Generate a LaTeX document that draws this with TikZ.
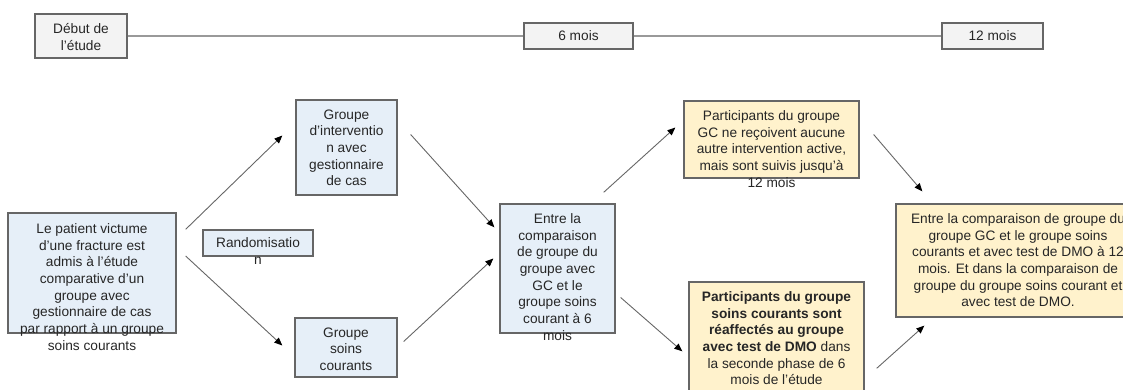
\documentclass[tikz,border=0pt]{standalone}
\usepackage{fontspec}
\setmainfont{Liberation Sans}
\usepackage{tikz}
\usetikzlibrary{arrows.meta}

\definecolor{boxline}{HTML}{666666}
\definecolor{bluefill}{HTML}{E6EFF8}
\definecolor{yellowfill}{HTML}{FFF2CC}
\definecolor{greyfill}{HTML}{F3F3F3}
\definecolor{txtcol}{HTML}{262626}

\begin{document}
\begin{tikzpicture}[x=1pt,y=-1pt,
  font=\fontsize{13.7}{16.7}\selectfont,
  box/.style={draw=boxline,line width=1.3pt,inner sep=0pt},
  bluebox/.style={box,fill=bluefill},
  yellowbox/.style={box,fill=yellowfill},
  greybox/.style={box,fill=greyfill,text=txtcol},
  txt/.style={anchor=north,inner sep=0pt,align=center,text=txtcol},
  arr/.style={draw=boxline,line width=0.9pt,-{Triangle[length=8pt,width=6.5pt,color=black]}},
  timeline/.style={draw=black!40,line width=1.5pt}]
\useasboundingbox (0,0) rectangle (1123,389);
\clip (0,0) rectangle (1123,389);

% echelle de temps
\node[greybox,minimum width=92pt,minimum height=44pt] (debut) at (81,36) {};
\node[txt] (debut-t) at ([shift={(0,10)}]debut.north) {Début de\\l’étude};
\node[greybox,minimum width=109pt,minimum height=26pt] (six) at (578.5,36) {6 mois};
\node[greybox,minimum width=101pt,minimum height=26pt] (douze) at (992.5,36) {12 mois};
\draw[timeline] (debut.east) -- (six.west);
\draw[timeline] (six.east) -- (douze.west);

% boites
\node[bluebox,minimum width=168pt,minimum height=120pt] (patient) at (92,273) {};
\node[txt] (patient-t) at ([shift={(0,11)}]patient.north)
  {Le patient victume\\d’une fracture est\\admis à l’étude\\comparative d’un\\groupe avec\\gestionnaire de cas\\par rapport à un groupe\\soins courants};
\node[bluebox,minimum width=110pt,minimum height=26pt] (rando) at (258,243) {};
\node[txt] (rando-t) at ([shift={(0,8)}]rando.north) {Randomisatio\\n};
\node[bluebox,minimum width=101pt,minimum height=95pt] (interv) at (346.5,147.5) {};
\node[txt] (interv-t) at ([shift={(0,10)}]interv.north)
  {Groupe\\d’interventio\\n avec\\gestionnaire\\de cas};
\node[bluebox,minimum width=102pt,minimum height=59pt] (soins) at (346,347.5) {};
\node[txt] (soins-t) at ([shift={(0,10)}]soins.north) {Groupe\\soins\\courants};
\node[bluebox,minimum width=115pt,minimum height=129pt] (compa) at (557.5,268.5) {};
\node[txt] (compa-t) at ([shift={(0,10)}]compa.north)
  {Entre la\\comparaison\\de groupe du\\groupe avec\\GC et le\\groupe soins\\courant à 6\\mois};
\node[yellowbox,minimum width=175pt,minimum height=77pt] (suivi) at (771.5,139.5) {};
\node[txt] (suivi-t) at ([shift={(0,10)}]suivi.north)
  {Participants du groupe\\GC ne reçoivent aucune\\autre intervention active,\\mais sont suivis jusqu’à\\12 mois};
\node[yellowbox,minimum width=175pt,minimum height=118pt] (reaff) at (776.5,341) {};
\node[txt] (reaff-t) at ([shift={(0,10)}]reaff.north)
  {\bfseries Participants du groupe\\\bfseries soins courants sont\\\bfseries réaffectés au groupe\\\textbf{avec test de DMO} dans\\la seconde phase de 6\\mois de l’étude};
\node[yellowbox,minimum width=244pt,minimum height=113pt] (final) at (1018,260.5) {};
\node[txt] (final-t) at ([shift={(0,10)}]final.north)
  {Entre la comparaison de groupe du\\groupe GC et le groupe soins\\courants et avec test de DMO à 12\\mois. Et dans la comparaison de\\groupe du groupe soins courant et\\avec test de DMO.};

% fleches
\draw[arr] ([shift={(9,17)}]patient.north east) -- ([shift={(-13,-12)}]interv.west);
\draw[arr] ([shift={(9,-17)}]patient.east) -- ([shift={(-12,-2)}]soins.west);
\draw[arr] ([shift={(13,-13)}]interv.east) -- ([shift={(-5,24)}]compa.north west);
\draw[arr] ([shift={(6,-6)}]soins.east) -- ([shift={(-6,-10)}]compa.west);
\draw[arr] ([shift={(-12,-11)}]compa.north east) -- ([shift={(-8,-12)}]suivi.west);
\draw[arr] ([shift={(5,29)}]compa.east) -- ([shift={(-6,70)}]reaff.north west);
\draw[arr] ([shift={(14,-5)}]suivi.east) -- ([shift={(27,-12)}]final.north west);
\draw[arr] ([shift={(12,87)}]reaff.north east) -- ([shift={(29,8)}]final.south west);
\end{tikzpicture}
\end{document}
